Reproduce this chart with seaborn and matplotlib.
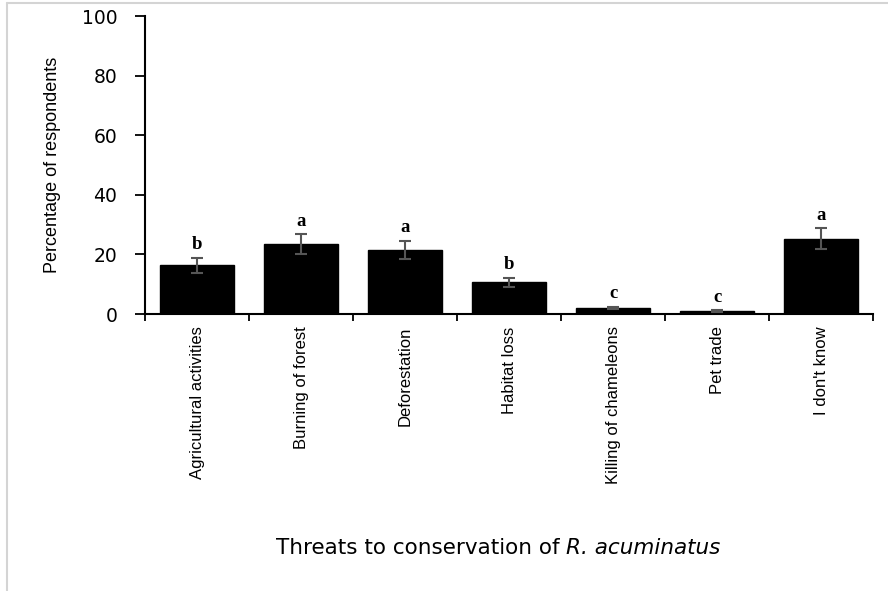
import matplotlib
matplotlib.use("Agg")
import matplotlib.pyplot as plt
from matplotlib import font_manager
from matplotlib.lines import Line2D
import seaborn as sns
import pandas as pd
import numpy as np

# Responses on threats to the chameleon (percentage of respondents)
threats = ["Agricultural activities", "Burning of forest", "Deforestation",
           "Habitat loss", "Killing of chameleons", "Pet trade", "I don't know"]
percent = [16.4, 23.5, 21.5, 10.7, 2.0, 1.0, 25.2]
std_err = [2.5, 3.2, 3.0, 1.5, 0.3, 0.2, 3.5]
groups = ["b", "a", "a", "b", "c", "c", "a"]
y_ticks = [0, 20, 40, 60, 80, 100]

sns.set_style("white")
plt.rcParams["text.color"] = "black"
plt.rcParams["axes.labelcolor"] = "black"
plt.rcParams["xtick.color"] = "black"
plt.rcParams["ytick.color"] = "black"
names = {f.name for f in font_manager.fontManager.ttflist}
narrow = "Liberation Sans Narrow" if "Liberation Sans Narrow" in names else "Liberation Sans"

df = pd.DataFrame({"threat": threats, "percent": percent})

fig = plt.figure(figsize=(8.88, 5.91), dpi=100)
ax = fig.add_axes([145 / 888, 1 - 314 / 591, 728 / 888, 298 / 591])

sns.barplot(data=df, x="threat", y="percent", color="black", width=0.72,
            errorbar=None, ax=ax, saturation=1)
for p in ax.patches:
    p.set_edgecolor("black")

pos = np.arange(len(threats))
ax.errorbar(pos, percent, yerr=std_err, fmt="none", ecolor="#555555",
            elinewidth=1.5, capsize=4, capthick=1.5, zorder=5)

for x, v, e, g in zip(pos, percent, std_err, groups):
    ax.annotate(g, (x, v + e), xytext=(0, 3.5), textcoords="offset points",
                ha="center", va="bottom", fontsize=13.5, fontweight="bold",
                family="Liberation Serif", color="black")

ax.set_xlim(-0.5, len(threats) - 0.5)
ax.set_ylim(0, 100)
ax.set_yticks(y_ticks)
ax.set_yticklabels([str(t) for t in y_ticks], family="DejaVu Sans", fontsize=13.5)

ax.set_xticks(pos)
ax.set_xticklabels(threats, rotation=90, ha="center", va="top",
                   family=narrow, fontsize=12)
ax.set_xticks(np.arange(len(threats) + 1) - 0.5, minor=True)
ax.tick_params(axis="x", which="major", length=0, pad=9)
ax.tick_params(axis="x", which="minor", length=5, width=1.3, direction="out",
               color="black", bottom=True)
ax.tick_params(axis="y", length=7, width=1.3, direction="out", color="black",
               left=True, pad=13)

ax.set_xlabel("")
ax.set_ylabel("Percentage of respondents", family=narrow, fontsize=13,
              labelpad=15, color="black")

sns.despine(ax=ax)
for s in ("left", "bottom"):
    ax.spines[s].set_color("black")
    ax.spines[s].set_linewidth(1.5)

# axis title: plain words followed by the italic species name
title_y = 1 - 548 / 591
t1 = fig.text(0, title_y, "Threats to conservation of ", ha="left",
              va="center", fontsize=15.5, family="DejaVu Sans")
t2 = ax.annotate("R. acuminatus", xy=(1, 0.5), xycoords=t1, ha="left",
                 va="center", fontsize=15.5, family="DejaVu Sans",
                 fontstyle="italic", annotation_clip=False)
renderer = fig.canvas.get_renderer()
w1 = t1.get_window_extent(renderer).width
w2 = t2.get_window_extent(renderer).width
t1.set_x((498 - (w1 + w2) / 2) / 888)

# thin grey frame lines along the top and left edges
fig.add_artist(Line2D([7 / 888, 1], [1 - 3 / 591, 1 - 3 / 591],
                      transform=fig.transFigure, color="#d4d4d4", lw=1.5))
fig.add_artist(Line2D([7 / 888, 7 / 888], [0, 1 - 3 / 591],
                      transform=fig.transFigure, color="#d4d4d4", lw=1.5))

fig.savefig("out.png", dpi=100)
